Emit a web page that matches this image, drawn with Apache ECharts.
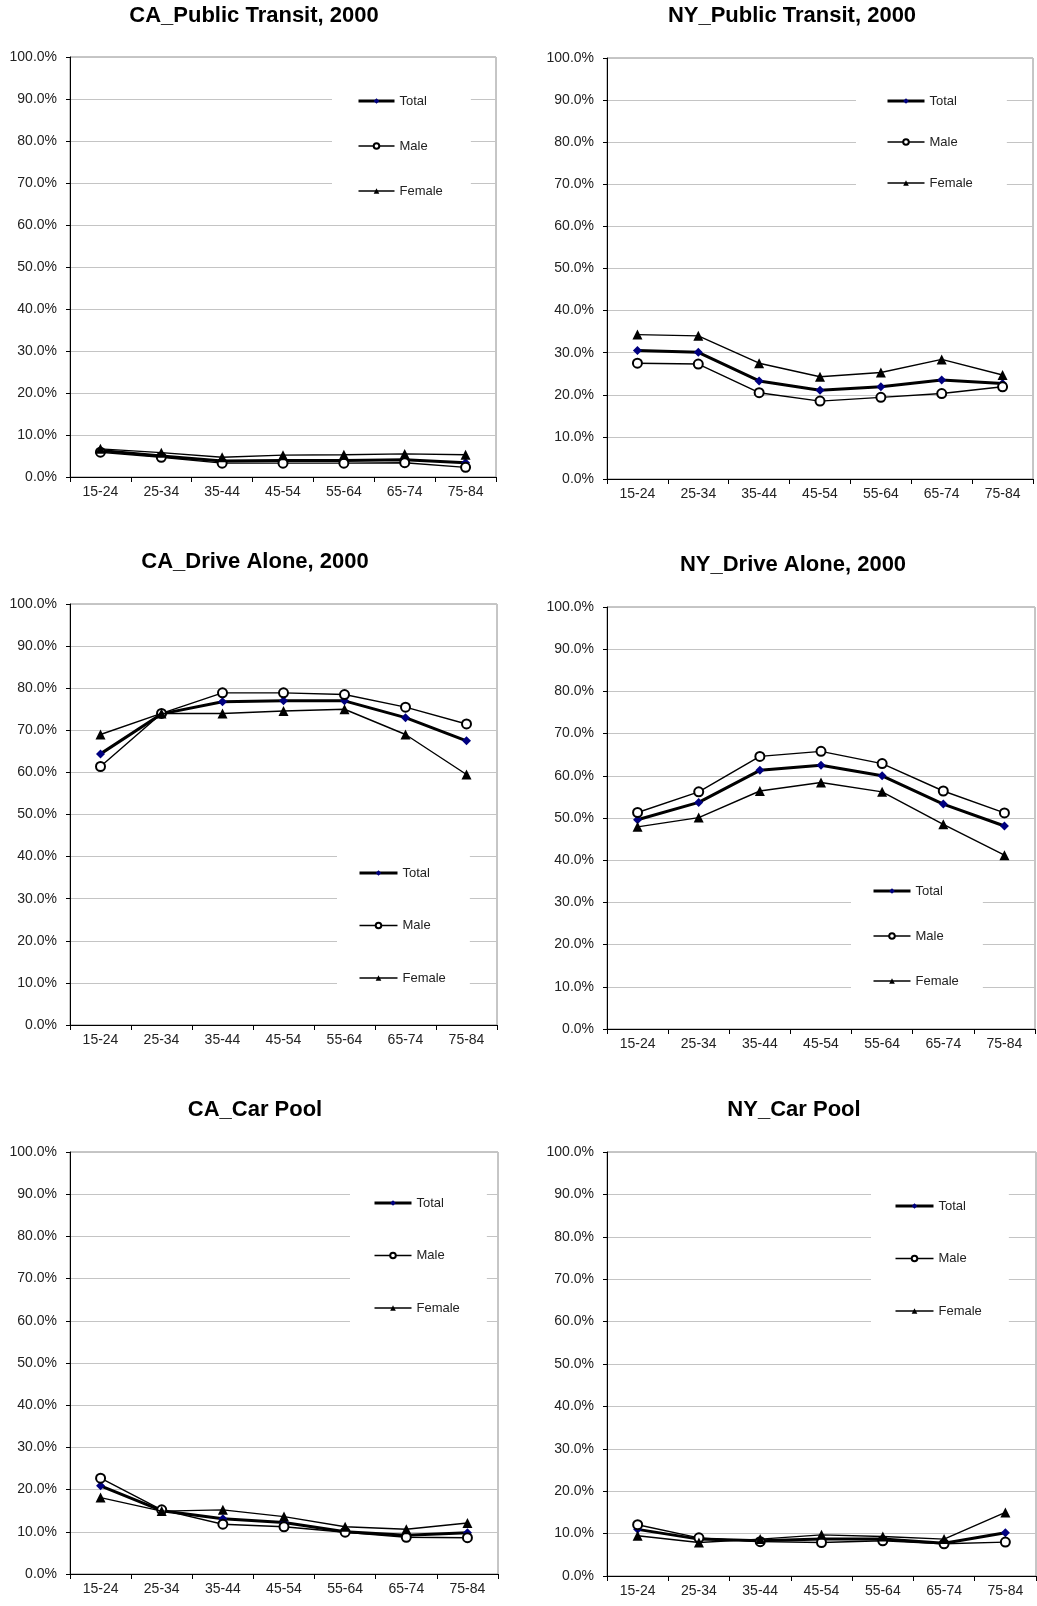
<!DOCTYPE html>
<html>
<head>
<meta charset="utf-8">
<script src="https://cdn.jsdelivr.net/npm/echarts@6/dist/echarts.min.js"></script>
<style>
  html, body { margin: 0; padding: 0; background: #fff; }
  #chart { width: 1037px; height: 1606px; }
</style>
</head>
<body>
<div id="chart"></div>
<script>
// Age groups on the horizontal axis
const ageGroups = ['15-24', '25-34', '35-44', '45-54', '55-64', '65-74', '75-84'];
// Vertical axis tick labels (0% .. 100% in steps of 10)
const yTickLabels = ['0.0%', '10.0%', '20.0%', '30.0%', '40.0%', '50.0%', '60.0%', '70.0%', '80.0%', '90.0%', '100.0%'];
const seriesNames = ['Total', 'Male', 'Female'];

// Share of workers by commute mode, percent
const caTransitTotal  = [6.3, 5.0, 3.8, 3.9, 3.9, 4.1, 3.4];
const caTransitMale   = [5.9, 4.7, 3.3, 3.3, 3.3, 3.4, 2.3];
const caTransitFemale = [6.7, 5.8, 4.7, 5.2, 5.3, 5.5, 5.3];

const nyTransitTotal  = [30.5, 30.1, 23.3, 21.1, 21.9, 23.5, 22.7];
const nyTransitMale   = [27.5, 27.3, 20.5, 18.5, 19.4, 20.3, 21.9];
const nyTransitFemale = [34.3, 34.0, 27.5, 24.3, 25.3, 28.4, 24.7];

const caDriveTotal  = [64.4, 73.9, 76.8, 77.0, 77.0, 73.0, 67.5];
const caDriveMale   = [61.4, 74.0, 78.9, 78.9, 78.5, 75.5, 71.5];
const caDriveFemale = [69.0, 74.0, 74.0, 74.6, 75.0, 69.0, 59.5];

const nyDriveTotal  = [49.6, 53.7, 61.3, 62.5, 60.0, 53.3, 48.1];
const nyDriveMale   = [51.3, 56.2, 64.6, 65.8, 62.9, 56.4, 51.2];
const nyDriveFemale = [47.9, 50.1, 56.4, 58.4, 56.2, 48.5, 41.2];

const caPoolTotal  = [20.9, 15.0, 13.1, 12.2, 10.0, 9.2, 9.8];
const caPoolMale   = [22.7, 15.2, 11.8, 11.2, 9.9, 8.7, 8.6];
const caPoolFemale = [18.1, 14.9, 15.2, 13.6, 11.2, 10.6, 12.1];

const nyPoolTotal  = [11.0, 8.7, 8.3, 8.7, 8.7, 7.7, 10.2];
const nyPoolMale   = [12.1, 9.0, 8.1, 7.9, 8.3, 7.6, 8.0];
const nyPoolFemale = [9.5, 7.9, 8.7, 9.7, 9.3, 8.7, 15.0];

// Panel layout: title position, plot rectangle, legend box
const panels = [
  { title: 'CA_Public Transit, 2000', tx: 254, ty: 16,
    grid: { left: 70, top: 57, width: 426, height: 420 },
    legend: { left: 332, top: 83, gap: 29, w: 36, pad: [10, 28, 8, 25] },
    data: [caTransitTotal, caTransitMale, caTransitFemale] },
  { title: 'NY_Public Transit, 2000', tx: 792, ty: 16,
    grid: { left: 607, top: 58, width: 426, height: 421 },
    legend: { left: 856, top: 81, gap: 25, w: 37, pad: [12, 34, 10, 30] },
    data: [nyTransitTotal, nyTransitMale, nyTransitFemale] },
  { title: 'CA_Drive Alone, 2000', tx: 255, ty: 562,
    grid: { left: 70, top: 604, width: 427, height: 421 },
    legend: { left: 337, top: 845, gap: 36.5, w: 38, pad: [20, 24, 14, 21] },
    data: [caDriveTotal, caDriveMale, caDriveFemale] },
  { title: 'NY_Drive Alone, 2000', tx: 793, ty: 565,
    grid: { left: 607, top: 607, width: 428, height: 422 },
    legend: { left: 851, top: 871, gap: 29, w: 37, pad: [12, 24, 12, 21] },
    data: [nyDriveTotal, nyDriveMale, nyDriveFemale] },
  { title: 'CA_Car Pool', tx: 255, ty: 1110,
    grid: { left: 70, top: 1152, width: 428, height: 422 },
    legend: { left: 350, top: 1183, gap: 36.5, w: 37, pad: [12, 27, 12, 23] },
    data: [caPoolTotal, caPoolMale, caPoolFemale] },
  { title: 'NY_Car Pool', tx: 794, ty: 1110,
    grid: { left: 607, top: 1152, width: 429, height: 424 },
    legend: { left: 871, top: 1186, gap: 36.5, w: 38, pad: [12, 27, 12, 23] },
    data: [nyPoolTotal, nyPoolMale, nyPoolFemale] }
];

const FONT = '"Liberation Sans", Arial, Helvetica, sans-serif';

// Marker and line styles for Total / Male / Female
const seriesStyles = [
  { symbol: 'diamond', symbolSize: 9, itemStyle: { color: '#000080' }, lineStyle: { color: '#000', width: 3 } },
  { symbol: 'emptyCircle', symbolSize: 9, itemStyle: { color: '#000', borderWidth: 1.5 }, lineStyle: { color: '#000', width: 1.4 } },
  { symbol: 'triangle', symbolSize: 10, itemStyle: { color: '#000' }, lineStyle: { color: '#000', width: 1.4 } }
];

// Legend entries with their own line weights
const legendItems = [
  { name: 'Total', lineStyle: { color: '#000', width: 3 }, itemStyle: { color: '#000080', borderWidth: 0 } },
  { name: 'Male', lineStyle: { color: '#000', width: 1.4 } },
  { name: 'Female', lineStyle: { color: '#000', width: 1.4 }, itemStyle: { color: '#000', borderWidth: 0 } }
];

const grids = [], xAxes = [], yAxes = [], legends = [], series = [], graphics = [];

panels.forEach((p, i) => {
  grids.push(Object.assign({ show: true, borderColor: '#8c8c8c', borderWidth: 1, backgroundColor: '#fff' }, p.grid));

  xAxes.push({
    type: 'category', gridIndex: i, data: ageGroups, boundaryGap: true,
    axisLine: { lineStyle: { color: '#000', width: 1 } },
    axisTick: { show: true, alignWithLabel: false, length: 5, lineStyle: { color: '#000' } },
    axisLabel: { interval: 0, margin: 8, fontSize: 14, fontFamily: FONT, color: '#222' },
    splitLine: { show: false }
  });

  yAxes.push({
    type: 'value', gridIndex: i, min: 0, max: 100, interval: 10,
    axisLine: { show: true, lineStyle: { color: '#000', width: 1 } },
    axisTick: { show: true, length: 4, lineStyle: { color: '#000' } },
    axisLabel: { margin: 13, fontSize: 14, fontFamily: FONT, color: '#222',
      formatter: v => yTickLabels[Math.round(v / 10)] },
    splitLine: { show: true, lineStyle: { color: '#c4c4c4', width: 1 } }
  });

  legends.push({
    orient: 'vertical', left: p.legend.left, top: p.legend.top,
    padding: p.legend.pad, itemGap: p.legend.gap,
    itemWidth: p.legend.w, itemHeight: 7,
    backgroundColor: '#fff',
    data: legendItems,
    textStyle: { fontSize: 13, fontFamily: FONT, color: '#222', lineHeight: 16 },
    selectedMode: false
  });

  seriesNames.forEach((name, k) => {
    const st = seriesStyles[k];
    series.push({
      type: 'line', name: name, xAxisIndex: i, yAxisIndex: i,
      data: p.data[k],
      symbol: st.symbol, symbolSize: st.symbolSize,
      showSymbol: true,
      itemStyle: st.itemStyle, lineStyle: st.lineStyle,
      emphasis: { disabled: true },
      z: 3 + k
    });
  });

  graphics.push({
    type: 'text', x: p.tx, y: p.ty,
    style: {
      text: p.title, font: 'bold 22px ' + FONT, fill: '#000',
      align: 'center', verticalAlign: 'middle',
      textAlign: 'center', textVerticalAlign: 'middle'
    }
  });
});

const chart = echarts.init(document.getElementById('chart'), null, { renderer: 'canvas' });
chart.setOption({
  backgroundColor: '#fff',
  animation: false,
  grid: grids,
  xAxis: xAxes,
  yAxis: yAxes,
  legend: legends,
  series: series,
  graphic: graphics
});
</script>
</body>
</html>
